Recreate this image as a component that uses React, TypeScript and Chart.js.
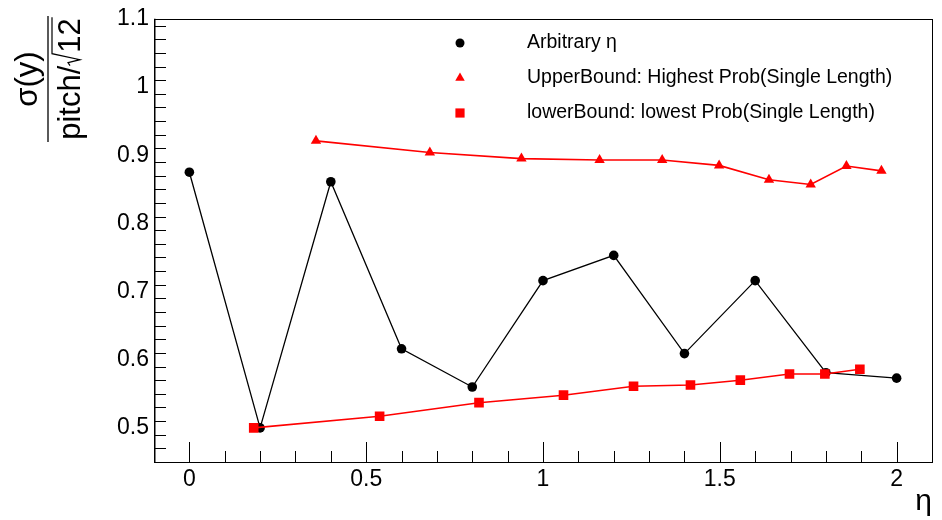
import React, { useEffect, useRef } from 'react';
import { Chart, registerables } from 'chart.js';

Chart.register(...registerables);

// ---- data ----
const ETA_ARB = [0, 0.2, 0.4, 0.6, 0.8, 1.0, 1.2, 1.4, 1.6, 1.8, 2.0];
const SIGMA_ARB = [0.875, 0.5, 0.861, 0.616, 0.56, 0.716, 0.753, 0.609, 0.716, 0.581, 0.573];

const ETA_UPPER = [0.358, 0.68, 0.939, 1.16, 1.337, 1.498, 1.639, 1.757, 1.858, 1.957];
const SIGMA_UPPER = [0.921, 0.904, 0.895, 0.893, 0.893, 0.885, 0.864, 0.857, 0.884, 0.877];

const ETA_LOWER = [0.182, 0.538, 0.819, 1.058, 1.256, 1.417, 1.558, 1.697, 1.797, 1.896];
const SIGMA_LOWER = [0.5, 0.517, 0.537, 0.548, 0.561, 0.563, 0.57, 0.579, 0.579, 0.586];

const SERIES_LABELS = [
  'Arbitrary η',
  'UpperBound: Highest Prob(Single Length)',
  'lowerBound: lowest Prob(Single Length)',
];

const X_TICKS = [0, 0.5, 1, 1.5, 2];
const Y_TICKS = [0.5, 0.6, 0.7, 0.8, 0.9, 1, 1.1];
const X_RANGE = [-0.1, 2.1];
const Y_RANGE = [0.45, 1.1];
const X_MINOR_STEP = 0.1;
const Y_MINOR_STEP = 0.02;

const X_TITLE = 'η';
const Y_TITLE_NUM = 'σ(y)';
const Y_TITLE_DEN_A = 'pitch/';
const Y_TITLE_DEN_B = '12';

const FONT = "'Liberation Sans', Arial, Helvetica, sans-serif";

function drawMarker(ctx: CanvasRenderingContext2D, style: string, x: number, y: number, r: number, color: string) {
  ctx.save();
  ctx.fillStyle = color;
  ctx.beginPath();
  if (style === 'circle') {
    ctx.arc(x, y, r, 0, Math.PI * 2);
  } else if (style === 'triangle') {
    ctx.moveTo(x, y - r);
    ctx.lineTo(x + r * Math.sin(2 * Math.PI / 3), y - r * Math.cos(2 * Math.PI / 3));
    ctx.lineTo(x + r * Math.sin(4 * Math.PI / 3), y - r * Math.cos(4 * Math.PI / 3));
    ctx.closePath();
  } else {
    const s = r * Math.SQRT1_2;
    ctx.rect(x - s, y - s, 2 * s, 2 * s);
  }
  ctx.fill();
  ctx.restore();
}

const framePlugin = {
  id: 'rootFrame',
  beforeDatasetsDraw(chart: any) {
    const ctx: CanvasRenderingContext2D = chart.ctx;
    const { left, right, top, bottom } = chart.chartArea;
    const xs = chart.scales.x;
    const ys = chart.scales.y;
    ctx.save();
    ctx.strokeStyle = '#000';
    ctx.lineWidth = 1;
    ctx.strokeRect(Math.round(left) + 0.5, Math.round(top) + 0.5, Math.round(right - left), Math.round(bottom - top));
    // left axis line slightly heavier
    ctx.lineWidth = 1.5;
    ctx.beginPath();
    ctx.moveTo(Math.round(left) + 0.75, top);
    ctx.lineTo(Math.round(left) + 0.75, bottom);
    ctx.stroke();
    ctx.lineWidth = 1;
    // x ticks
    const nX = Math.round((X_RANGE[1] - X_RANGE[0]) / X_MINOR_STEP);
    for (let i = 1; i < nX; i++) {
      const v = X_RANGE[0] + i * X_MINOR_STEP;
      const major = X_TICKS.some((t) => Math.abs(t - v) < 1e-6);
      const px = Math.round(xs.getPixelForValue(v)) + 0.5;
      const len = major ? 20 : 11;
      ctx.beginPath();
      ctx.moveTo(px, bottom);
      ctx.lineTo(px, bottom - len);
      ctx.stroke();
    }
    // y ticks
    const nY = Math.round((Y_RANGE[1] - Y_RANGE[0]) / Y_MINOR_STEP);
    for (let i = 1; i < nY; i++) {
      const v = Y_RANGE[0] + i * Y_MINOR_STEP;
      const major = Y_TICKS.some((t) => Math.abs(t - v) < 1e-6);
      const py = Math.round(ys.getPixelForValue(v)) + 0.5;
      const len = major ? 23 : 12;
      ctx.beginPath();
      ctx.moveTo(left, py);
      ctx.lineTo(left + len, py);
      ctx.stroke();
    }
    ctx.restore();
  },
  afterDraw(chart: any) {
    const ctx: CanvasRenderingContext2D = chart.ctx;
    const { right } = chart.chartArea;
    ctx.save();
    ctx.fillStyle = '#000';
    ctx.strokeStyle = '#000';

    // x title
    ctx.font = `30px ${FONT}`;
    ctx.textAlign = 'right';
    ctx.textBaseline = 'alphabetic';
    ctx.fillText(X_TITLE, right, 510);

    // y title (fraction, rotated)
    ctx.save();
    ctx.translate(48, 79);
    ctx.rotate(-Math.PI / 2);
    ctx.font = `31px ${FONT}`;
    ctx.textAlign = 'center';
    ctx.fillText(Y_TITLE_NUM, 0, -11);
    ctx.lineWidth = 1.3;
    ctx.beginPath();
    ctx.moveTo(-63, 0);
    ctx.lineTo(63, 0);
    ctx.stroke();
    ctx.textAlign = 'left';
    const wa = ctx.measureText(Y_TITLE_DEN_A).width;
    const wb = ctx.measureText(Y_TITLE_DEN_B).width;
    const wr = 13;
    let u = -(wa + wr + wb) / 2;
    ctx.fillText(Y_TITLE_DEN_A, u, 32);
    u += wa;
    ctx.lineWidth = 1.2;
    ctx.beginPath();
    ctx.moveTo(u, 22);
    ctx.lineTo(u + 3, 20);
    ctx.lineTo(u + 6, 32);
    ctx.lineTo(u + wr - 1, 4);
    ctx.lineTo(u + wr + wb + 1, 4);
    ctx.stroke();
    ctx.fillText(Y_TITLE_DEN_B, u + wr, 32);
    ctx.restore();

    // legend
    const rows = [43, 78, 113];
    const styles = ['circle', 'triangle', 'rect'];
    const radii = [4.5, 5.5, 6.5];
    const colors = ['#000000', '#ff0000', '#ff0000'];
    ctx.font = `19.5px ${FONT}`;
    ctx.textAlign = 'left';
    ctx.textBaseline = 'middle';
    SERIES_LABELS.forEach((lab, i) => {
      drawMarker(ctx, styles[i], 460, rows[i], radii[i], colors[i]);
      ctx.fillStyle = '#000';
      ctx.fillText(lab, 527, rows[i]);
    });
    ctx.restore();
  },
};

export default function App() {
  const ref = useRef<HTMLCanvasElement | null>(null);
  useEffect(() => {
    if (!ref.current) return;
    const toPts = (xs: number[], ys: number[]) => xs.map((x, i) => ({ x, y: ys[i] }));
    const chart = new Chart(ref.current, {
      type: 'scatter',
      data: {
        datasets: [
          {
            label: SERIES_LABELS[0],
            data: toPts(ETA_ARB, SIGMA_ARB),
            showLine: true,
            borderColor: '#000',
            backgroundColor: '#000',
            borderWidth: 1.3,
            pointStyle: 'circle',
            pointRadius: 4.8,
            pointBorderWidth: 0,
            pointBackgroundColor: '#000',
            tension: 0,
            order: 3,
          },
          {
            label: SERIES_LABELS[1],
            data: toPts(ETA_UPPER, SIGMA_UPPER),
            showLine: true,
            borderColor: '#ff0000',
            backgroundColor: '#ff0000',
            borderWidth: 1.6,
            pointStyle: 'triangle',
            pointRadius: 6,
            pointBorderWidth: 0,
            pointBackgroundColor: '#ff0000',
            tension: 0,
            order: 2,
          },
          {
            label: SERIES_LABELS[2],
            data: toPts(ETA_LOWER, SIGMA_LOWER),
            showLine: true,
            borderColor: '#ff0000',
            backgroundColor: '#ff0000',
            borderWidth: 1.6,
            pointStyle: 'rect',
            pointRadius: 6.8,
            pointBorderWidth: 0,
            pointBackgroundColor: '#ff0000',
            tension: 0,
            order: 1,
          },
        ],
      },
      options: {
        animation: false,
        responsive: false,
        events: [],
        layout: { padding: { top: 16, right: 10, bottom: 0, left: 0 } },
        plugins: { legend: { display: false }, tooltip: { enabled: false }, title: { display: false } },
        scales: {
          x: {
            type: 'linear',
            min: X_RANGE[0],
            max: X_RANGE[1],
            grid: { display: false, drawTicks: false },
            border: { display: false },
            afterBuildTicks: (scale: any) => {
              scale.ticks = X_TICKS.map((v) => ({ value: v }));
            },
            afterFit: (scale: any) => {
              scale.height = 58;
            },
            ticks: {
              autoSkip: false,
              maxRotation: 0,
              padding: 4,
              color: '#000',
              font: { family: FONT, size: 23 },
              callback: (v: any) => String(Number(v)),
            },
          },
          y: {
            type: 'linear',
            min: Y_RANGE[0],
            max: Y_RANGE[1],
            grid: { display: false, drawTicks: false },
            border: { display: false },
            afterBuildTicks: (scale: any) => {
              scale.ticks = Y_TICKS.map((v) => ({ value: v }));
            },
            afterFit: (scale: any) => {
              scale.width = 154;
            },
            ticks: {
              autoSkip: false,
              padding: 5,
              color: '#000',
              font: { family: FONT, size: 23 },
              callback: (v: any) => String(Number(v)),
            },
          },
        },
      },
      plugins: [framePlugin],
    });
    return () => chart.destroy();
  }, []);
  return (
    <div style={{ position: 'fixed', left: 0, top: 0, width: 942, height: 520, background: '#fff' }}>
      <canvas ref={ref} width={942} height={520} style={{ width: 942, height: 520, display: 'block' }} />
    </div>
  );
}
